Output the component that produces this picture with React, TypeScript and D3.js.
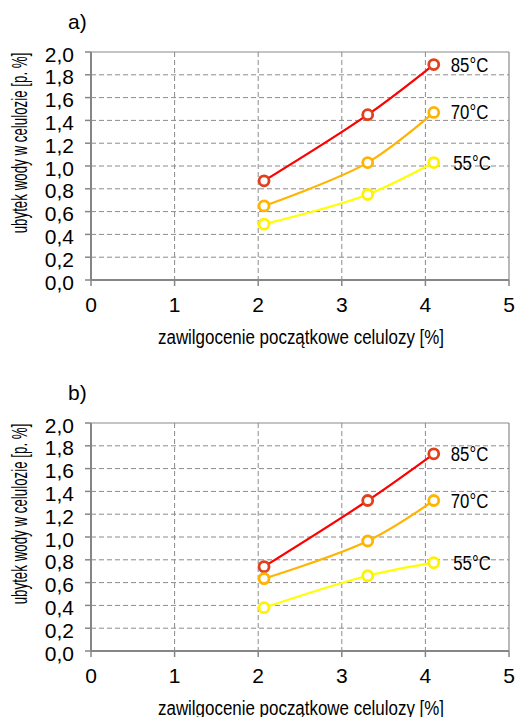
import React from "react";
import * as d3 from "d3";

// ---- data ----
const xValues = [2.07, 3.31, 4.1];
const seriesNames = ["85°C", "70°C", "55°C"];
const panelTitles = ["a)", "b)"];
const panelA85 = [0.87, 1.45, 1.89];
const panelA70 = [0.65, 1.03, 1.47];
const panelA55 = [0.49, 0.75, 1.03];
const panelB85 = [0.74, 1.32, 1.73];
const panelB70 = [0.635, 0.965, 1.32];
const panelB55 = [0.38, 0.66, 0.775];
const xTicks = [0, 1, 2, 3, 4, 5];
const yTicks = [0, 0.2, 0.4, 0.6, 0.8, 1.0, 1.2, 1.4, 1.6, 1.8, 2.0];
const xAxisTitle = "zawilgocenie początkowe celulozy [%]";
const yAxisTitle = "ubytek wody w celulozie [p. %]";

// ---- styles ----
const lineColors = ["#ff0000", "#ffb400", "#ffff00"];
const markerColors = ["#e2401c", "#ffb400", "#fff200"];
const labelDx = [17, 17, 19.5];
const W = 516;
const H = 717;
const plotLeft = 91;
const plotRight = 509;
const plotH = 228;
const regular = "'Liberation Sans', Arial, sans-serif";
const narrow = "'Liberation Sans Narrow', 'Arial Narrow', 'Liberation Sans', Arial, sans-serif";
const gridColor = "#8a8a8a";
const axisColor = "#868686";

type PanelProps = { top: number; title: string; data: number[][] };

function Panel({ top, title, data }: PanelProps) {
  const x = d3.scaleLinear().domain([0, 5]).range([plotLeft, plotRight]);
  const y = d3.scaleLinear().domain([0, 2]).range([top + plotH, top]);
  const bottom = top + plotH;
  const line = d3
    .line<number>()
    .x((_, i) => x(xValues[i]))
    .y((d) => y(d))
    .curve(d3.curveCatmullRom.alpha(0.5));
  const fmt = (v: number) => v.toFixed(1).replace(".", ",");
  return (
    <g>
      <text x={68} y={top - 23.5} fontFamily={regular} fontSize={21} fill="#000">
        {title}
      </text>
      {/* grid */}
      {yTicks.slice(1, -1).map((t) => (
        <line key={"gy" + t} x1={plotLeft} x2={plotRight} y1={y(t)} y2={y(t)} stroke={gridColor} strokeWidth={1} strokeDasharray="5,3" />
      ))}
      {xTicks.slice(1, -1).map((t) => (
        <line key={"gx" + t} x1={x(t)} x2={x(t)} y1={top} y2={bottom} stroke={gridColor} strokeWidth={1} strokeDasharray="5,3" />
      ))}
      {/* frame top/right */}
      <line x1={plotLeft} x2={plotRight} y1={top} y2={top} stroke={gridColor} strokeWidth={1.2} />
      <line x1={plotRight} x2={plotRight} y1={top} y2={bottom} stroke={gridColor} strokeWidth={1.2} />
      {/* axes */}
      <line x1={plotLeft} x2={plotLeft} y1={top} y2={bottom} stroke={axisColor} strokeWidth={2} />
      <line x1={plotLeft} x2={plotRight} y1={bottom} y2={bottom} stroke={axisColor} strokeWidth={2} />
      {yTicks.map((t) => (
        <g key={"yt" + t}>
          <line x1={plotLeft - 6} x2={plotLeft} y1={y(t)} y2={y(t)} stroke={axisColor} strokeWidth={1.5} />
          <text x={74} y={y(t) + 9.5} textAnchor="end" fontFamily={regular} fontSize={21} fill="#000">
            {fmt(t)}
          </text>
        </g>
      ))}
      {xTicks.map((t) => (
        <g key={"xt" + t}>
          <line x1={x(t)} x2={x(t)} y1={bottom} y2={bottom + 6} stroke={axisColor} strokeWidth={1.5} />
          <text x={x(t)} y={bottom + 31.7} textAnchor="middle" fontFamily={regular} fontSize={21} fill="#000">
            {t}
          </text>
        </g>
      ))}
      <text x={301} y={bottom + 63.5} textAnchor="middle" fontFamily={narrow} fontSize={20} textLength={286} lengthAdjust="spacingAndGlyphs" fill="#000">
        {xAxisTitle}
      </text>
      <text
        transform={`translate(${27},${top + 91}) rotate(-90) scale(0.62,1)`}
        textAnchor="middle"
        fontFamily={regular}
        fontSize={21.5}
        fill="#000"
      >
        {yAxisTitle}
      </text>
      {/* series */}
      {data.map((vals, si) => (
        <g key={"s" + si}>
          <path d={line(vals) || ""} fill="none" stroke={lineColors[si]} strokeWidth={2.2} />
          {vals.map((v, i) => (
            <circle key={i} cx={x(xValues[i])} cy={y(v)} r={5} fill="#fff" stroke={markerColors[si]} strokeWidth={2.8} />
          ))}
          <text
            x={x(xValues[vals.length - 1]) + labelDx[si]}
            y={y(vals[vals.length - 1]) + 7}
            fontFamily={narrow}
            fontSize={20}
            textLength={37.5}
            lengthAdjust="spacingAndGlyphs"
            fill="#000"
          >
            {seriesNames[si]}
          </text>
        </g>
      ))}
    </g>
  );
}

export default function App() {
  return (
    <svg width={W} height={H} style={{ position: "absolute", left: 0, top: 0, background: "#fff" }}>
      <rect width={W} height={H} fill="#fff" />
      <Panel top={52} title={panelTitles[0]} data={[panelA85, panelA70, panelA55]} />
      <Panel top={423} title={panelTitles[1]} data={[panelB85, panelB70, panelB55]} />
    </svg>
  );
}
